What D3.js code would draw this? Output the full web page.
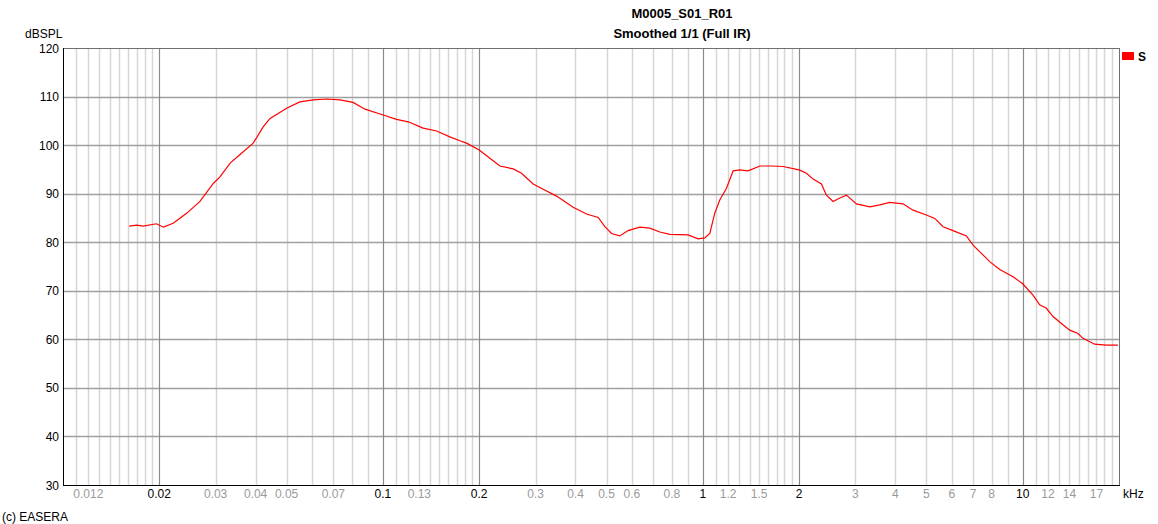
<!DOCTYPE html>
<html>
<head>
<meta charset="utf-8">
<script src="https://cdn.jsdelivr.net/npm/d3@7"></script>
<style>
  html, body { margin: 0; padding: 0; background: #fff; }
  svg { display: block; font-family: "Liberation Sans", Arial, sans-serif; }
</style>
</head>
<body>
<svg id="chart" width="1158" height="524"></svg>
<script>
// ---- data ----
const freqKHz = [0.0161, 0.0170, 0.0178, 0.0196, 0.0206, 0.0221, 0.0244, 0.0268, 0.0295, 0.0310,
  0.0333, 0.0357, 0.0393, 0.0423, 0.0444, 0.0500, 0.0550, 0.0606, 0.0667, 0.0734,
  0.0807, 0.0879, 0.1002, 0.1103, 0.1200, 0.1336, 0.1472, 0.1619, 0.1740, 0.1826,
  0.2000, 0.2160, 0.2321, 0.2554, 0.2713, 0.2949, 0.3169, 0.3490, 0.3933, 0.4330,
  0.4709, 0.4941, 0.5185, 0.5503, 0.5842, 0.6355, 0.6830, 0.7338, 0.7888, 0.8997,
  0.9667, 1.0145, 1.0517, 1.090, 1.130, 1.186, 1.244, 1.305, 1.385, 1.507,
  1.640, 1.782, 2.000, 2.109, 2.212, 2.349, 2.435, 2.554, 2.680, 2.812,
  3.022, 3.326, 3.573, 3.840, 4.226, 4.542, 5.000, 5.309, 5.636, 6.055,
  6.670, 6.995, 7.513, 7.885, 8.478, 9.327, 10.02, 10.77, 11.30, 11.86,
  12.44, 13.36, 14.03, 14.89, 15.43, 16.79, 18.26, 19.85];
const levelDB = [83.3, 83.5, 83.3, 83.8, 83.1, 83.9, 86.0, 88.4, 92.1, 93.5,
  96.3, 98.0, 100.4, 103.8, 105.5, 107.6, 108.9, 109.3, 109.5, 109.3,
  108.8, 107.4, 106.2, 105.3, 104.8, 103.5, 102.9, 101.7, 100.9, 100.4,
  99.0, 97.3, 95.7, 95.1, 94.2, 92.0, 90.9, 89.5, 87.2, 85.8,
  85.1, 83.2, 81.8, 81.3, 82.4, 83.1, 82.9, 82.1, 81.6, 81.5,
  80.7, 80.9, 81.8, 86.0, 88.7, 91.1, 94.7, 94.9, 94.7, 95.7,
  95.7, 95.6, 94.9, 94.2, 93.0, 92.0, 89.7, 88.4, 89.1, 89.7,
  87.9, 87.3, 87.7, 88.2, 87.9, 86.6, 85.6, 84.9, 83.2, 82.4,
  81.3, 79.4, 77.4, 76.0, 74.4, 72.9, 71.4, 69.1, 67.1, 66.4,
  64.7, 63.0, 61.9, 61.2, 60.2, 59.0, 58.8, 58.8];
const yTicks = [30, 40, 50, 60, 70, 80, 90, 100, 110, 120];
const xTickLabels = [0.012, 0.02, 0.03, 0.04, 0.05, 0.07, 0.1, 0.13, 0.2, 0.3, 0.4, 0.5, 0.6, 0.8,
  1, 1.2, 1.5, 2, 3, 4, 5, 6, 7, 8, 10, 12, 14, 17];
const majorLabels = [0.02, 0.1, 0.2, 1, 2, 10];
const titleLines = ["M0005_S01_R01", "Smoothed 1/1 (Full IR)"];
const seriesName = "S";

// ---- layout ----
const L = 63, R = 1119, T = 48, B = 485;
const svg = d3.select("#chart");
const x = d3.scaleLog().domain([0.01, 20]).range([L, R]);
const y = d3.scaleLinear().domain([30, 120]).range([B, T]);

// grid lines (vertical)
const minorV = [], majorV = [];
for (let k = -2; k <= 1; k++) {
  const dec = Math.pow(10, k);
  majorV.push(1 * dec, 2 * dec);
  for (let m = 11; m <= 19; m++) minorV.push(+(m / 10 * dec).toPrecision(3));
  for (let m = 3; m <= 9; m++) minorV.push(+(m * dec).toPrecision(3));
}
const inDom = v => v > 0.01 && v < 20;
const g = svg.append("g");
g.selectAll("line.minor").data(minorV.filter(inDom)).join("line")
  .attr("x1", d => Math.round(x(d)) + 0.5).attr("x2", d => Math.round(x(d)) + 0.5)
  .attr("y1", T).attr("y2", B)
  .attr("stroke", "#d6d6d6").attr("stroke-width", 1.5);
g.selectAll("line.hgrid").data(yTicks.filter(v => v > 30 && v < 120)).join("line")
  .attr("x1", L).attr("x2", R)
  .attr("y1", d => Math.round(y(d)) + 0.5).attr("y2", d => Math.round(y(d)) + 0.5)
  .attr("stroke", "#a0a0a0").attr("stroke-width", 1.5);
g.selectAll("line.major").data(majorV.filter(inDom)).join("line")
  .attr("x1", d => Math.round(x(d)) + 0.5).attr("x2", d => Math.round(x(d)) + 0.5)
  .attr("y1", T).attr("y2", B)
  .attr("stroke", "#8a8a8a").attr("stroke-width", 1.2);

// frame
svg.append("line").attr("x1", L).attr("x2", R).attr("y1", T + 0.5).attr("y2", T + 0.5).attr("stroke", "#707070");
svg.append("line").attr("x1", R + 0.5).attr("x2", R + 0.5).attr("y1", T).attr("y2", B).attr("stroke", "#707070");
svg.append("line").attr("x1", L + 0.5).attr("x2", L + 0.5).attr("y1", T).attr("y2", B + 1).attr("stroke", "#000");
svg.append("line").attr("x1", L).attr("x2", R + 1).attr("y1", B + 0.5).attr("y2", B + 0.5).attr("stroke", "#000");

// y tick labels
svg.append("g").selectAll("text").data(yTicks).join("text")
  .attr("x", 59).attr("y", d => y(d) + 4.5)
  .attr("text-anchor", "end").attr("font-size", 12).attr("fill", "#000")
  .text(d => d);
svg.append("text").attr("x", 25).attr("y", 38).attr("font-size", 12).attr("fill", "#000").text("dBSPL");

// x tick labels
svg.append("g").selectAll("text").data(xTickLabels).join("text")
  .attr("x", d => x(d)).attr("y", 498)
  .attr("text-anchor", "middle").attr("font-size", 12)
  .attr("fill", d => majorLabels.includes(d) ? "#000" : "#9a9a9a")
  .text(d => d);
svg.append("text").attr("x", 1123).attr("y", 498).attr("font-size", 12).attr("fill", "#000").text("kHz");
svg.append("text").attr("x", 2).attr("y", 521).attr("font-size", 12).attr("fill", "#000").text("(c) EASERA");

// titles
svg.append("g").selectAll("text").data(titleLines).join("text")
  .attr("x", 682).attr("y", (d, i) => 18 + i * 20)
  .attr("text-anchor", "middle").attr("font-size", 13).attr("font-weight", "bold").attr("fill", "#000")
  .text(d => d);

// legend
svg.append("rect").attr("x", 1122).attr("y", 52).attr("width", 12).attr("height", 8).attr("fill", "#ff0000");
svg.append("text").attr("x", 1138).attr("y", 61).attr("font-size", 12).attr("font-weight", "bold").attr("fill", "#000").text(seriesName);

// curve
const pts = freqKHz.map((f, i) => [f, levelDB[i]]);
svg.append("path").datum(pts)
  .attr("fill", "none").attr("stroke", "#ff0000").attr("stroke-width", 1.2)
  .attr("d", d3.line().x(d => x(d[0])).y(d => y(d[1])));
</script>
</body>
</html>
